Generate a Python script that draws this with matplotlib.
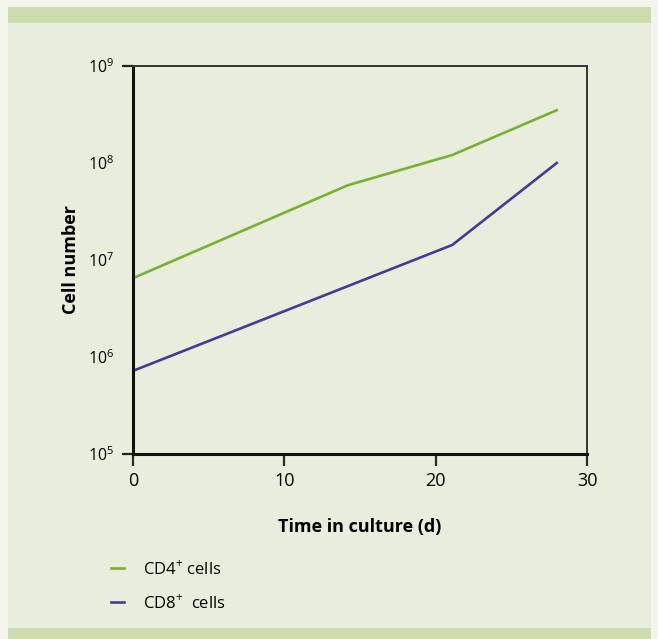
import matplotlib.pyplot as plt
from matplotlib.patches import Rectangle
from matplotlib.ticker import FixedLocator, FixedFormatter

plt.rcParams['font.family'] = ['Open Sans', 'DejaVu Sans']
plt.rcParams['mathtext.fontset'] = 'custom'
plt.rcParams['mathtext.rm'] = 'Open Sans'

# data
days_cd4 = [0, 14.2, 21.1, 28]
cells_cd4 = [6.5e6, 5.9e7, 1.21e8, 3.5e8]
days_cd8 = [0, 21.1, 28]
cells_cd8 = [7.2e5, 1.43e7, 1.0e8]

x_ticks = [0, 10, 20, 30]
y_ticks = [1e5, 1e6, 1e7, 1e8, 1e9]
y_labels = [r'$\mathregular{10^{%d}}$' % e for e in range(5, 10)]

green = '#78b133'
purple = '#463a96'
panel = '#e9eedc'
band = '#cddcae'

fig = plt.figure(figsize=(6.58, 6.39), dpi=100)
fig.patch.set_facecolor('#f3f5ec')
W, H = 658, 639
fig.patches.append(Rectangle((8 / W, 0), 643 / W, 632 / H, transform=fig.transFigure,
                             facecolor=panel, edgecolor='none', zorder=-2))
fig.patches.append(Rectangle((8 / W, 1 - 23 / H), 643 / W, 16 / H, transform=fig.transFigure,
                             facecolor=band, edgecolor='none', zorder=-1))
fig.patches.append(Rectangle((8 / W, 0), 643 / W, 11 / H, transform=fig.transFigure,
                             facecolor=band, edgecolor='none', zorder=-1))

ax = fig.add_axes([133 / W, 1 - 454 / H, 454 / W, 388 / H])
ax.set_facecolor('none')

ax.plot(days_cd4, cells_cd4, color=green, lw=1.9, label='CD4$^{+}$ cells')
ax.plot(days_cd8, cells_cd8, color=purple, lw=1.9, label='CD8$^{+}$  cells')

ax.set_yscale('log')
ax.set_xlim(0, 30)
ax.set_ylim(1e5, 1e9)

ax.xaxis.set_major_locator(FixedLocator(x_ticks))
ax.tick_params(axis='x', which='major', direction='out', length=8.6,
               width=1.6, color='#2a2a2a', pad=4, labelsize=13)

# only the end decades carry a tick mark
ax.yaxis.remove_overlapping_locs = False
ax.yaxis.set_major_locator(FixedLocator(y_ticks))
ax.yaxis.set_major_formatter(FixedFormatter(y_labels))
ax.yaxis.set_minor_locator(FixedLocator([1e5, 1e9]))
ax.yaxis.set_minor_formatter(FixedFormatter(['', '']))
ax.tick_params(axis='y', which='major', length=0, pad=13.5, labelsize=11.5)
ax.tick_params(axis='y', which='minor', direction='out', length=8,
               width=1.6, color='#222222')

for s in ['left', 'bottom']:
    ax.spines[s].set_linewidth(2.2)
    ax.spines[s].set_color('#111111')
for s in ['top', 'right']:
    ax.spines[s].set_linewidth(1.4)
    ax.spines[s].set_color('#333333')

ax.set_xlabel('Time in culture (d)', fontsize=13, fontweight='bold', labelpad=20.5)
ax.set_ylabel('Cell number', fontsize=13, fontweight='bold', labelpad=6)

fig.legend(loc='upper left', bbox_to_anchor=(96 / W, 1 - 545 / H), frameon=False,
           handlelength=0.8, handletextpad=1.1, labelspacing=0.95, fontsize=12)

fig.savefig('out.png', dpi=100, facecolor=fig.get_facecolor())
